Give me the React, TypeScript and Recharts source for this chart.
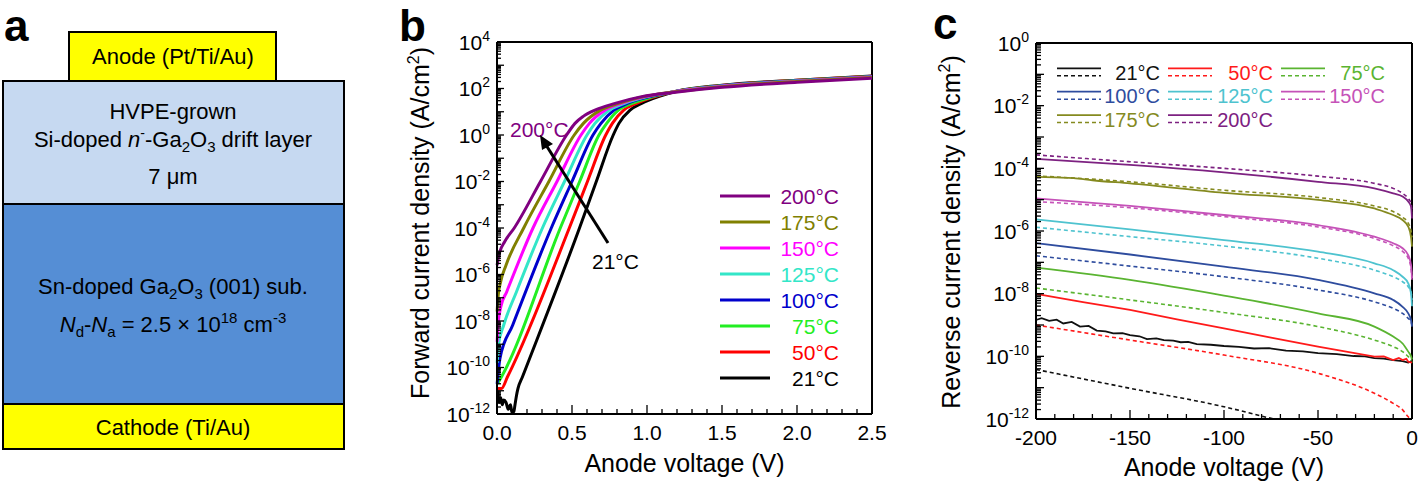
import React from 'react';
import { LineChart, Line, XAxis, YAxis, ReferenceLine } from 'recharts';

const FONT = '"Liberation Sans", Arial, Helvetica, sans-serif';

// ---- panel b: forward J-V, [V, log10 J] ----
const fwd200 = [[0.001,-5.6],[0.008,-5.3],[0.02,-5.0],[0.05,-4.6],[0.115,-4.0],[0.29,-2.0],[0.464,0],[0.52,0.5],[0.575,0.8],[0.653,1.07],[0.787,1.36],[0.964,1.65],[1.19,1.84],[1.5,2.05],[2.0,2.27],[2.5,2.44]];
const fwd175 = [[0.001,-7.6],[0.008,-6.9],[0.025,-6.3],[0.06,-5.6],[0.178,-4.0],[0.346,-2.0],[0.515,0],[0.576,0.5],[0.69,1.07],[0.81,1.36],[0.98,1.65],[1.19,1.86],[1.5,2.08],[2.0,2.3],[2.5,2.47]];
const fwd150 = [[0.001,-8.9],[0.008,-8.1],[0.025,-7.4],[0.065,-6.74],[0.24,-4.0],[0.4,-2.0],[0.56,0],[0.616,0.5],[0.72,1.07],[0.83,1.36],[0.99,1.65],[1.19,1.87],[1.5,2.1],[2.0,2.31],[2.5,2.49]];
const fwd125 = [[0.001,-9.8],[0.01,-9.0],[0.045,-8.17],[0.13,-6.74],[0.303,-4.0],[0.45,-2.0],[0.6,0],[0.653,0.5],[0.75,1.07],[0.85,1.36],[1.0,1.65],[1.19,1.87],[1.5,2.11],[2.0,2.32],[2.5,2.5]];
const fwd100 = [[0.001,-10.7],[0.02,-9.6],[0.105,-8.17],[0.362,-4.0],[0.5,-2.0],[0.64,0],[0.693,0.5],[0.78,1.07],[0.87,1.36],[1.02,1.65],[1.19,1.87],[1.5,2.12],[2.0,2.33],[2.5,2.51]];
const fwd75 = [[0.003,-10.7],[0.03,-10.4],[0.422,-4.0],[0.551,-2.0],[0.68,0],[0.731,0.5],[0.81,1.07],[0.9,1.36],[1.04,1.65],[1.19,1.87],[1.5,2.12],[2.0,2.34],[2.5,2.52]];
const fwd50 = [[0.005,-10.9],[0.03,-10.9],[0.07,-10.4],[0.482,-4.0],[0.603,-2.0],[0.725,0],[0.769,0.5],[0.845,1.07],[0.93,1.36],[1.055,1.65],[1.19,1.87],[1.5,2.13],[2.0,2.35],[2.5,2.53]];
const fwd21 = [[0.005,-11.0],[0.015,-11.5],[0.025,-11.3],[0.035,-11.6],[0.045,-11.4],[0.06,-11.5],[0.075,-11.8],[0.09,-11.6],[0.1,-11.95],[0.112,-11.9],[0.12,-11.6],[0.13,-11.2],[0.14,-10.9],[0.17,-10.4],[0.55,-4.0],[0.662,-2.0],[0.775,0],[0.813,0.5],[0.887,1.07],[0.964,1.36],[1.076,1.65],[1.19,1.87],[1.5,2.14],[2.0,2.36],[2.5,2.54]];

const fwdLabels = ['200°C', '175°C', '150°C', '125°C', '100°C', '75°C', '50°C', '21°C'];
const fwdColors = ['#800080', '#808000', '#ff00ff', '#33e6c8', '#0000cc', '#22ee22', '#ff0000', '#000000'];
const fwdSets = [fwd200, fwd175, fwd150, fwd125, fwd100, fwd75, fwd50, fwd21];

// ---- panel c: reverse J-V, [V, log10 J] ----
const rev21 = [[-200,-8.84],[-197,-8.78],[-193,-8.87],[-189,-8.83],[-185.5,-8.95],[-181,-8.9],[-176.6,-9.05],[-172,-9.03],[-167.7,-9.18],[-163,-9.2],[-158.9,-9.27],[-154,-9.26],[-150,-9.32],[-145,-9.36],[-141,-9.45],[-136,-9.43],[-132,-9.48],[-127,-9.5],[-123,-9.55],[-119,-9.54],[-114.5,-9.61],[-107,-9.63],[-100,-9.67],[-92,-9.7],[-84,-9.75],[-76,-9.74],[-67,-9.82],[-58,-9.84],[-50,-9.9],[-40,-9.93],[-31,-9.99],[-25,-10.0],[-20,-10.06],[-15,-10.07],[-10,-10.12],[-5,-10.15],[-2,-10.2],[0,-10.15]];
const rev50 = [[-200,-8.01],[-175,-8.27],[-150,-8.52],[-125,-8.82],[-100,-9.11],[-75,-9.4],[-50,-9.69],[-35,-9.85],[-20,-10.01],[-15,-10.0],[-10,-10.12],[-7,-10.05],[-5,-10.12],[-3,-10.08],[-2,-10.17],[0,-10.2]];
const rev75 = [[-200,-7.17],[-150,-7.56],[-100,-8.06],[-50,-8.63],[-20,-9.05],[-10,-9.37],[-5,-9.59],[-2,-9.85],[-0.5,-10.0],[0,-10.1]];
const rev100 = [[-200,-6.39],[-150,-6.75],[-100,-7.14],[-50,-7.56],[-20,-7.99],[-10,-8.2],[-5,-8.42],[-2,-8.63],[-0.5,-8.85],[0,-9.05]];
const rev125 = [[-200,-5.63],[-150,-5.95],[-100,-6.29],[-50,-6.66],[-20,-7.03],[-10,-7.25],[-5,-7.46],[-2,-7.67],[-0.5,-8.0],[0,-8.4]];
const rev150 = [[-200,-4.96],[-150,-5.2],[-100,-5.49],[-50,-5.81],[-20,-6.18],[-10,-6.39],[-5,-6.55],[-2,-6.77],[-0.5,-7.1],[0,-7.5]];
const rev175 = [[-200,-4.27],[-190,-4.29],[-180,-4.31],[-170,-4.38],[-150,-4.48],[-100,-4.78],[-50,-5.01],[-20,-5.28],[-10,-5.49],[-5,-5.65],[-2,-5.86],[-0.5,-6.2],[0,-6.5]];
const rev200 = [[-200,-3.7],[-150,-3.89],[-100,-4.13],[-50,-4.43],[-20,-4.64],[-10,-4.8],[-5,-4.9],[-2,-5.06],[-0.5,-5.22],[0,-5.6]];

// dashed (fitted) curves
const fit21 = [[-200,-10.42],[-150,-11.02],[-100,-11.61],[-75,-11.98],[-60,-12.2]];
const fit50 = [[-200,-9.0],[-150,-9.48],[-100,-9.96],[-50,-10.54],[-20,-11.18],[-10,-11.5],[-5,-11.71],[-2,-11.93],[0,-12.05]];
const fit75 = [[-200,-7.82],[-150,-8.2],[-100,-8.6],[-50,-9.05],[-20,-9.48],[-10,-9.69],[-5,-9.85],[-2,-10.01],[-0.5,-10.1],[0,-10.2]];
const fit100 = [[-200,-6.79],[-150,-7.12],[-100,-7.46],[-50,-7.88],[-20,-8.26],[-10,-8.47],[-5,-8.63],[-2,-8.79],[-0.5,-8.89],[0,-9.0]];
const fit125 = [[-200,-5.88],[-150,-6.18],[-100,-6.48],[-50,-6.87],[-20,-7.25],[-10,-7.46],[-5,-7.62],[-2,-7.78],[-0.5,-7.95],[0,-8.2]];
const fit150 = [[-200,-5.06],[-150,-5.26],[-100,-5.54],[-50,-5.87],[-20,-6.24],[-10,-6.47],[-5,-6.65],[-2,-6.87],[-0.5,-7.2],[0,-7.6]];
const fit175 = [[-200,-4.24],[-150,-4.43],[-100,-4.7],[-50,-4.93],[-20,-5.2],[-10,-5.38],[-5,-5.56],[-2,-5.75],[-0.5,-6.0],[0,-6.2]];
const fit200 = [[-200,-3.57],[-150,-3.79],[-100,-4.0],[-50,-4.25],[-20,-4.48],[-10,-4.64],[-5,-4.8],[-2,-4.96],[-0.5,-5.12],[0,-5.4]];

const revLabels = ['21°C', '50°C', '75°C', '100°C', '125°C', '150°C', '175°C', '200°C'];
const revColors = ['#111111', '#ff1a1a', '#5ab431', '#2e4c9e', '#4ec3cf', '#c552b8', '#858a1f', '#7d2181'];
const revSets = [rev21, rev50, rev75, rev100, rev125, rev150, rev175, rev200];
const fitSets = [fit21, fit50, fit75, fit100, fit125, fit150, fit175, fit200];

// ---- axes ----
const fwdDecades = [-12, -11, -10, -9, -8, -7, -6, -5, -4, -3, -2, -1, 0, 1, 2, 3, 4];
const revDecades = [-12, -11, -10, -9, -8, -7, -6, -5, -4, -3, -2, -1, 0];
const fwdXTicks = [0, 0.1, 0.2, 0.3, 0.4, 0.5, 0.6, 0.7, 0.8, 0.9, 1.0, 1.1, 1.2, 1.3, 1.4, 1.5, 1.6, 1.7, 1.8, 1.9, 2.0, 2.1, 2.2, 2.3, 2.4, 2.5];
const revXTicks = [-200, -190, -180, -170, -160, -150, -140, -130, -120, -110, -100, -90, -80, -70, -60, -50, -40, -30, -20, -10, 0];

const toPts = (arr) => arr.map(([v, e]) => ({ v, j: Math.pow(10, e) }));
const logTicks = (decs) =>
  decs.flatMap((d, i) =>
    i === decs.length - 1 ? [Math.pow(10, d)] : [1, 2, 3, 4, 5, 6, 7, 8, 9].map((m) => m * Math.pow(10, d))
  );

function LogYTick(props) {
  const { x, y, payload, major, minor } = props;
  const e = Math.log10(payload.value);
  const re = Math.round(e);
  const isDec = Math.abs(e - re) < 1e-6;
  return (
    <g>
      <line x1={x} x2={x + (isDec ? major : minor)} y1={y} y2={y} stroke="#000" strokeWidth={1.3} />
      {isDec && re % 2 === 0 && (
        <text x={x - 7} y={y + 7.5} textAnchor="end" fontSize={21} fontFamily={FONT} fill="#000">
          10<tspan dy={-9} fontSize={14}>{re}</tspan>
        </text>
      )}
    </g>
  );
}

function LinXTick(props) {
  const { x, y, payload, step, fmt } = props;
  const v = payload.value;
  const isMajor = Math.abs(v / step - Math.round(v / step)) < 1e-6;
  return (
    <g>
      <line x1={x} x2={x} y1={y} y2={y - (isMajor ? 9 : 5)} stroke="#000" strokeWidth={1.3} />
      {isMajor && (
        <text x={x} y={y + 26} textAnchor="middle" fontSize={21} fontFamily={FONT} fill="#000">
          {fmt(v)}
        </text>
      )}
    </g>
  );
}

function ForwardChart() {
  return (
    <LineChart width={500} height={488} margin={{ top: 42, right: 28, bottom: 34, left: 37 }}>
      <XAxis
        type="number"
        dataKey="v"
        domain={[0, 2.5]}
        ticks={fwdXTicks}
        interval={0}
        height={40}
        tickSize={0}
        tickMargin={0}
        tickLine={false}
        axisLine={{ stroke: '#000', strokeWidth: 2 }}
        tick={(p) => <LinXTick {...p} step={0.5} fmt={(v) => v.toFixed(1)} />}
      />
      <YAxis
        type="number"
        scale="log"
        domain={[1e-12, 1e4]}
        allowDataOverflow
        ticks={logTicks(fwdDecades)}
        interval={0}
        width={60}
        tickSize={0}
        tickMargin={0}
        tickLine={false}
        axisLine={{ stroke: '#000', strokeWidth: 2 }}
        tick={(p) => <LogYTick {...p} major={7} minor={4} />}
      />
      <ReferenceLine y={1e4} stroke="#000" strokeWidth={2} />
      <ReferenceLine x={2.5} stroke="#000" strokeWidth={2} />
      {fwdSets.map((s, i) => (
        <Line
          key={fwdLabels[i]}
          data={toPts(s)}
          dataKey="j"
          type="monotone"
          stroke={fwdColors[i]}
          strokeWidth={3}
          dot={false}
          isAnimationActive={false}
        />
      )).reverse()}
    </LineChart>
  );
}

function ReverseChart() {
  return (
    <LineChart width={458} height={488} margin={{ top: 43, right: 6, bottom: 29, left: 16 }}>
      <XAxis
        type="number"
        dataKey="v"
        domain={[-200, 0]}
        ticks={revXTicks}
        interval={0}
        height={40}
        tickSize={0}
        tickMargin={0}
        tickLine={false}
        axisLine={{ stroke: '#000', strokeWidth: 2 }}
        tick={(p) => <LinXTick {...p} step={50} fmt={(v) => String(v)} />}
      />
      <YAxis
        type="number"
        scale="log"
        domain={[1e-12, 1]}
        allowDataOverflow
        ticks={logTicks(revDecades)}
        interval={0}
        width={60}
        tickSize={0}
        tickMargin={0}
        tickLine={false}
        axisLine={{ stroke: '#000', strokeWidth: 2 }}
        tick={(p) => <LogYTick {...p} major={8} minor={5} />}
      />
      <ReferenceLine y={1} stroke="#000" strokeWidth={2} />
      <ReferenceLine x={0} stroke="#000" strokeWidth={2} />
      {fitSets.map((s, i) => (
        <Line
          key={'fit' + revLabels[i]}
          data={toPts(s)}
          dataKey="j"
          type="monotone"
          stroke={revColors[i]}
          strokeWidth={1.6}
          strokeDasharray="4 3"
          dot={false}
          isAnimationActive={false}
        />
      ))}
      {revSets.map((s, i) => (
        <Line
          key={'exp' + revLabels[i]}
          data={toPts(s)}
          dataKey="j"
          type={i < 2 ? 'linear' : 'monotone'}
          stroke={revColors[i]}
          strokeWidth={1.8}
          dot={false}
          isAnimationActive={false}
        />
      ))}
    </LineChart>
  );
}

function Overlay() {
  const t = { fontFamily: FONT, fill: '#000' };
  return (
    <svg width={1418} height={488} style={{ position: 'absolute', left: 0, top: 0, pointerEvents: 'none' }}>
      {/* panel a: device cross-section */}
      <rect x={3} y={81} width={341} height={123} fill="#c6d9f1" stroke="#000" strokeWidth={2} />
      <rect x={3} y={204} width={341} height={200} fill="#558ed5" stroke="#000" strokeWidth={2} />
      <rect x={3} y={404} width={341} height={45} fill="#ffff00" stroke="#000" strokeWidth={2} />
      <rect x={69} y={32} width={207} height={49} fill="#ffff00" stroke="#000" strokeWidth={2} />
      <g {...t} fontSize={22} textAnchor="middle">
        <text x={173} y={64}>Anode (Pt/Ti/Au)</text>
        <text x={173} y={119}>HVPE-grown</text>
        <text x={173} y={146.5}>
          Si-doped <tspan fontStyle="italic">n</tspan>
          <tspan dy={-9} fontSize={14}>-</tspan>
          <tspan dy={9}>-Ga</tspan>
          <tspan dy={5} fontSize={15}>2</tspan>
          <tspan dy={-5}>O</tspan>
          <tspan dy={5} fontSize={15}>3</tspan>
          <tspan dy={-5}> drift layer</tspan>
        </text>
        <text x={173} y={184}>7 μm</text>
        <text x={173} y={294}>
          Sn-doped Ga<tspan dy={5} fontSize={15}>2</tspan>
          <tspan dy={-5}>O</tspan>
          <tspan dy={5} fontSize={15}>3</tspan>
          <tspan dy={-5}> (001) sub.</tspan>
        </text>
        <text x={173} y={331.5}>
          <tspan fontStyle="italic">N</tspan>
          <tspan dy={5} fontSize={15}>d</tspan>
          <tspan dy={-5}>-</tspan>
          <tspan fontStyle="italic">N</tspan>
          <tspan dy={5} fontSize={15}>a</tspan>
          <tspan dy={-5}> = 2.5 × 10</tspan>
          <tspan dy={-9} fontSize={15}>18</tspan>
          <tspan dy={9}> cm</tspan>
          <tspan dy={-9} fontSize={15}>-3</tspan>
        </text>
        <text x={173} y={435}>Cathode (Ti/Au)</text>
      </g>

      {/* panel letters */}
      <g {...t} fontSize={44} fontWeight="bold">
        <text x={4} y={41}>a</text>
        <text x={399} y={41}>b</text>
        <text x={933} y={39}>c</text>
      </g>

      {/* axis titles */}
      <g {...t} fontSize={25} textAnchor="middle">
        <text transform="translate(429,223) rotate(-90)">
          Forward current density (A/cm<tspan dy={-10} fontSize={16}>2</tspan>
          <tspan dy={10}>)</tspan>
        </text>
        <text x={684.5} y={472}>Anode voltage (V)</text>
        <text transform="translate(960,232) rotate(-90)">
          Reverse current density (A/cm<tspan dy={-10} fontSize={16}>2</tspan>
          <tspan dy={10}>)</tspan>
        </text>
        <text x={1224} y={476}>Anode voltage (V)</text>
      </g>

      {/* panel b annotations */}
      <text x={510} y={137} fontSize={21} fontFamily={FONT} fill={fwdColors[0]}>200°C</text>
      <text x={592} y={268.5} fontSize={21} fontFamily={FONT} fill="#000">21°C</text>
      <line x1={608} y1={243} x2={546} y2={145} stroke="#000" strokeWidth={3} />
      <polygon points="540,135 553,144 542,150" fill="#000" />

      {/* panel b legend */}
      {fwdLabels.map((lab, i) => (
        <g key={lab}>
          <line x1={720} x2={770} y1={196 + 26 * i} y2={196 + 26 * i} stroke={fwdColors[i]} strokeWidth={3} />
          <text x={839} y={196 + 26 * i + 7.5} textAnchor="end" fontSize={21} fontFamily={FONT} fill={fwdColors[i]}>
            {lab}
          </text>
        </g>
      ))}

      {/* panel c legend */}
      {revLabels.map((lab, i) => {
        const col = i % 3;
        const row = Math.floor(i / 3);
        const lx = [1057, 1168, 1281][col];
        const tx = [1160, 1273, 1385][col];
        const cy = 72.8 + 23.4 * row;
        return (
          <g key={lab}>
            <line x1={lx} x2={lx + 44} y1={cy - 4.5} y2={cy - 4.5} stroke={revColors[i]} strokeWidth={1.8} />
            <line x1={lx} x2={lx + 44} y1={cy + 3} y2={cy + 3} stroke={revColors[i]} strokeWidth={1.5} strokeDasharray="4 3" />
            <text x={tx} y={cy + 7} textAnchor="end" fontSize={20} fontFamily={FONT} fill={revColors[i]}>
              {lab}
            </text>
          </g>
        );
      })}
    </svg>
  );
}

export default function App() {
  return (
    <div style={{ position: 'absolute', left: 0, top: 0, width: 1418, height: 488, background: '#fff', fontFamily: FONT }}>
      <div style={{ position: 'absolute', left: 400, top: 0 }}>
        <ForwardChart />
      </div>
      <div style={{ position: 'absolute', left: 960, top: 0 }}>
        <ReverseChart />
      </div>
      <Overlay />
    </div>
  );
}
